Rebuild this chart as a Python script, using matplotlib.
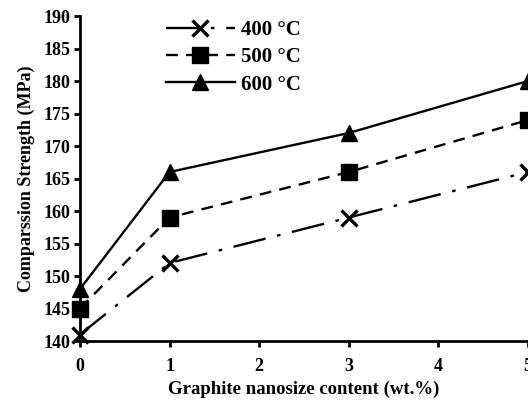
import matplotlib
matplotlib.use("Agg")
import matplotlib.pyplot as plt

content = [0, 1, 3, 5]
s400 = [141, 152, 159, 166]
s500 = [145, 159, 166, 174]
s600 = [148, 166, 172, 180]
labels = ["400 °C", "500 °C", "600 °C"]
yticks = [140, 145, 150, 155, 160, 165, 170, 175, 180, 185, 190]
xticks = [0, 1, 2, 3, 4, 5]

plt.rcParams['font.family'] = ['Liberation Serif', 'DejaVu Serif']
plt.rcParams['font.weight'] = 'bold'

fig = plt.figure(figsize=(5.28, 4.07), dpi=100)
ax = fig.add_axes([80/528, 1-341/407, 1-80/528, (341-16)/407])

ax.plot(content, s400, color='black', lw=1.7, marker='x', ms=11, mew=2.4,
        dashes=[14, 5, 1.5, 5], label=labels[0], clip_on=False, zorder=3)
ax.plot(content, s500, color='black', lw=1.7, marker='s', ms=11,
        dashes=[5, 3.5], label=labels[1], clip_on=False, zorder=3)
ax.plot(content, s600, color='black', lw=1.7, marker='^', ms=12,
        linestyle='-', label=labels[2], clip_on=False, zorder=3)

ax.set_xlim(0, 5)
ax.set_ylim(140, 190)
ax.set_xticks(xticks)
ax.set_yticks(yticks)
for s in ['top', 'right']:
    ax.spines[s].set_visible(False)
for s in ['left', 'bottom']:
    ax.spines[s].set_linewidth(2)
ax.tick_params(direction='out', width=2, length=4, labelsize=13)
ax.tick_params(axis='x', pad=8)
ax.tick_params(axis='y', pad=3)
for t in ax.get_xticklabels() + ax.get_yticklabels():
    t.set_fontweight('bold')

ax.set_xlabel("Graphite nanosize content (wt.%)", fontsize=13.5, fontweight='bold', labelpad=4)
ax.set_ylabel("Comparssion Strength (MPa)", fontsize=13, fontweight='bold', labelpad=6)

leg = ax.legend(loc='upper left', bbox_to_anchor=(0.15, 1.045), frameon=False,
                prop={'size': 15, 'weight': 'bold'}, handlelength=3.3,
                handletextpad=0.3, labelspacing=0.35)

fig.savefig("out.png", dpi=100)
